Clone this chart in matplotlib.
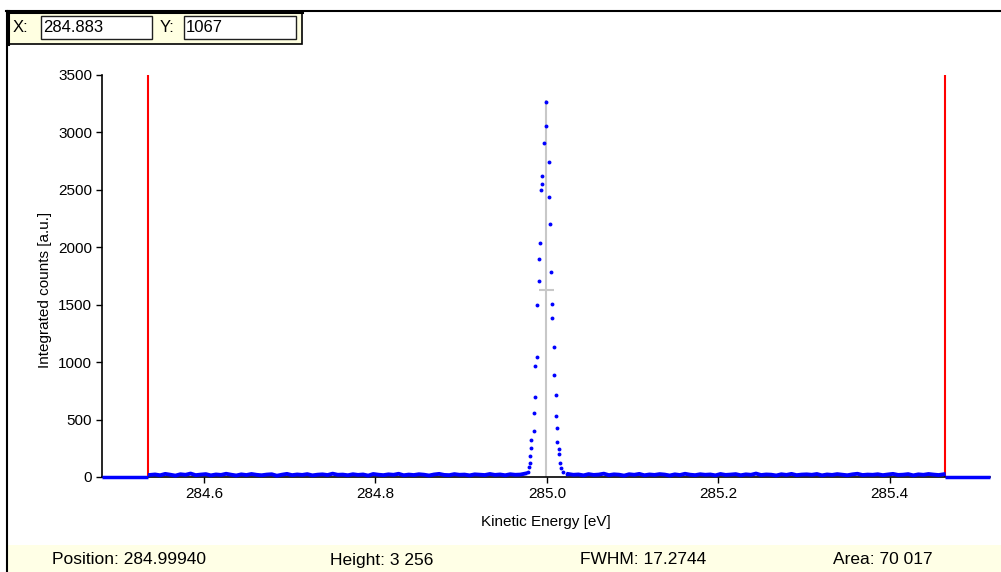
import numpy as np
import matplotlib
matplotlib.use("Agg")
import matplotlib.pyplot as plt
from matplotlib.patches import Rectangle
from matplotlib.lines import Line2D

plt.rcParams['font.family'] = ['Liberation Sans', 'DejaVu Sans']

# Figure size in pixels
W, H = 1001, 572

# Axis ranges
x_range = (284.481, 285.517)
y_range = (0, 3500)
x_ticks = [284.6, 284.8, 285.0, 285.2, 285.4]
y_ticks = [0, 500, 1000, 1500, 2000, 2500, 3000, 3500]

# Integration window (red markers)
window = [284.535, 285.464]

# Fit results shown in the status bar
peak_pos = 284.99940
peak_height = 3256
peak_top = 3280
fwhm = 0.0172744
area = 70017

# Cursor readout
cursor_x = "284.883"
cursor_y = "1067"

# Peak points (eV, counts)
peak_x = [284.97750, 284.97910, 284.97979, 284.98056, 284.98173, 284.98173,
          284.98445, 284.98445, 284.98639, 284.98639, 284.98834, 284.98834,
          284.99028, 284.99028, 284.99222, 284.99262, 284.99417, 284.99417,
          284.99612, 284.99845, 284.99845, 285.00194, 285.00194, 285.00389,
          285.00428, 285.00622, 285.00622, 285.00816, 285.00816, 285.01011,
          285.01011, 285.01205, 285.01205, 285.01400, 285.01400, 285.01590,
          285.01700, 285.01900, 285.02300]
peak_y = [46, 90, 125, 183, 322, 249,
          560, 397, 969, 696, 1494, 1044,
          1900, 1703, 2037, 2503, 2623, 2547,
          2910, 3267, 3058, 2744, 2440, 2202,
          1781, 1508, 1387, 1134, 890, 714,
          531, 424, 307, 241, 197, 119,
          75, 46, 25]

# Background counts either side of the peak
base_left = [18, 22, 15, 27, 20, 12, 24, 19, 30, 16, 21, 25, 14, 22, 18, 28,
             20, 13, 23, 17, 26, 19, 15, 21, 24, 11, 20, 27, 16, 22, 18, 25,
             14, 20, 23, 17, 29, 19, 21, 15, 24, 18, 22, 12, 26, 20, 16, 23,
             19, 28, 15, 21, 17, 24, 20, 13, 22, 27, 18, 16, 25, 19, 21, 14,
             23, 20, 17, 26, 18, 22, 15, 24, 19, 21, 30]
base_right = [26, 19, 22, 14, 25, 18, 21, 29, 16, 23, 20, 12, 24, 19, 27, 15,
              22, 18, 25, 21, 13, 23, 17, 28, 20, 16, 24, 19, 22, 14, 26, 18,
              21, 25, 15, 23, 19, 30, 17, 22, 20, 13, 24, 18, 27, 16, 21, 23,
              19, 26, 14, 22, 18, 25, 20, 15, 23, 28, 17, 21, 19, 24, 16, 22,
              27, 18, 20, 25, 14, 23, 19, 26, 21, 17, 24]


def fx(p):
    return p / W


def fy(p):
    return 1 - p / H


fig = plt.figure(figsize=(W / 100, H / 100), dpi=100)
fig.patch.set_facecolor('white')

# Status bar
fig.add_artist(Rectangle((fx(8), 0), 1 - fx(8), (H - 545) / H, transform=fig.transFigure,
                         facecolor='#FFFFE6', edgecolor='none', zorder=0))
status = [("Position: %.5f" % peak_pos, 52),
          ("Height: {:,}".format(peak_height).replace(",", " "), 330),
          ("FWHM: %.4f" % (fwhm * 1000), 580),
          ("Area: {:,}".format(area).replace(",", " "), 833)]
for txt, xp in status:
    fig.text(fx(xp), fy(560), txt, fontsize=12.5, va='center', ha='left')

# Window frame
fig.add_artist(Line2D([fx(7), fx(7)], [fy(11), 0], color='black', lw=1.5, transform=fig.transFigure))
fig.add_artist(Line2D([fx(6), 1], [fy(11), fy(11)], color='black', lw=1.5, transform=fig.transFigure))

# Cursor readout box
fig.add_artist(Rectangle((fx(7), fy(44)), (302 - 7) / W, (44 - 11) / H, transform=fig.transFigure,
                         facecolor='#FFFFE1', edgecolor='black', lw=1.2, zorder=3))
fig.add_artist(Line2D([fx(8), fx(8)], [fy(11), fy(44)], color='black', lw=2.2,
                      transform=fig.transFigure, zorder=4))
fig.add_artist(Line2D([fx(7), fx(302)], [fy(12), fy(12)], color='black', lw=2.2,
                      transform=fig.transFigure, zorder=4))
for x0, x1 in [(41, 152), (184, 296)]:
    fig.add_artist(Rectangle((fx(x0), fy(39)), (x1 - x0) / W, (39 - 16) / H, transform=fig.transFigure,
                             facecolor='white', edgecolor='#202020', lw=1, zorder=4))
fig.text(fx(13), fy(28), "X:", fontsize=12, va='center', ha='left', zorder=5)
fig.text(fx(43), fy(28), cursor_x, fontsize=12, va='center', ha='left', zorder=5)
fig.text(fx(160), fy(28), "Y:", fontsize=12, va='center', ha='left', zorder=5)
fig.text(fx(186), fy(28), cursor_y, fontsize=12, va='center', ha='left', zorder=5)

# Main plot
ax = fig.add_axes([fx(102), fy(477), (990 - 102) / W, (477 - 75) / H])
ax.set_xlim(*x_range)
ax.set_ylim(*y_range)

ax.vlines(window, y_range[0], y_range[1], color='#FF0000', lw=1.5, zorder=2)
ax.vlines(peak_pos, 0, peak_top, color='#C8C8C8', lw=1.5, zorder=1)
ax.hlines(peak_height / 2, peak_pos - fwhm / 2, peak_pos + fwhm / 2, color='#C8C8C8', lw=1.5, zorder=1)

# zero background outside the window
ax.hlines(0, x_range[0], window[0], color='blue', lw=2.5, zorder=3, clip_on=False)
ax.hlines(0, window[1], x_range[1], color='blue', lw=2.5, zorder=3, clip_on=False)

xl = np.linspace(window[0] + 0.002, 284.975, len(base_left))
xr = np.linspace(285.025, window[1] - 0.001, len(base_right))
for xs, ys in [(xl, base_left), (xr, base_right)]:
    ax.plot(xs, ys, color='blue', lw=2.8, marker='s', ms=2, mew=0, zorder=3, clip_on=False)

ax.plot(peak_x, peak_y, ls='none', marker='o', ms=2.8, mew=0, color='#0000FF', zorder=4)

ax.set_xticks(x_ticks)
ax.set_xticklabels(["%.1f" % t for t in x_ticks])
ax.set_yticks(y_ticks)
ax.tick_params(direction='out', length=4, width=1, labelsize=11, pad=3, colors='black')
for s in ['top', 'right']:
    ax.spines[s].set_visible(False)
for s in ['left', 'bottom']:
    ax.spines[s].set_linewidth(1.2)

ax.set_xlabel("Kinetic Energy [eV]", fontsize=11, va='center')
ax.xaxis.set_label_coords(0.5, -(522 - 477) / 402)
ax.set_ylabel("Integrated counts [a.u.]", fontsize=11, va='center')
ax.yaxis.set_label_coords((45 - 102) / 888, (477 - 290) / 402)

fig.savefig("out.png", dpi=100)
